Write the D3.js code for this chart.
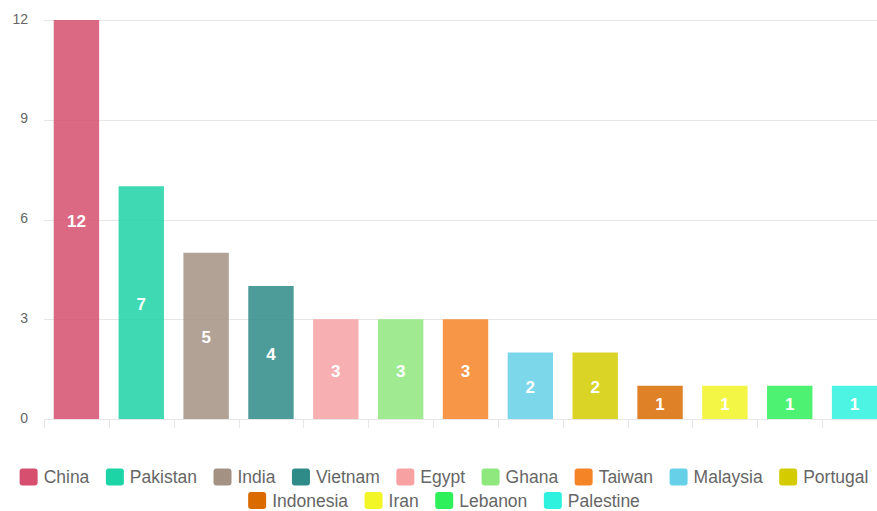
<!DOCTYPE html>
<html>
<head>
<meta charset="utf-8">
<script src="https://cdn.jsdelivr.net/npm/d3@7"></script>
<style>
  html, body { margin: 0; padding: 0; background: #fff; overflow: hidden; }
  svg { display: block; font-family: "Liberation Sans", Arial, Helvetica, sans-serif; }
</style>
</head>
<body>
<svg id="chart" width="877" height="511"></svg>
<script>
const categories = ["China", "Pakistan", "India", "Vietnam", "Egypt", "Ghana", "Taiwan", "Malaysia", "Portugal", "Indonesia", "Iran", "Lebanon", "Palestine"];
const values = [12, 7, 5, 4, 3, 3, 3, 2, 2, 1, 1, 1, 1];
const colors = ["#d64f6e", "#1dd4a6", "#a39283", "#2e8b88", "#f7a1a3", "#8fe87e", "#f58426", "#66d0e8", "#d4cc00", "#d96b00", "#f2f526", "#2ef05a", "#2ff2de"];
const yTicks = [0, 3, 6, 9, 12];

(function () {
const svg = d3.select("#chart");
const pLeft = 44, pRight = 887, pTop = 20, pBottom = 419;

const x = d3.scaleBand().domain(categories).range([pLeft, pRight]).paddingInner(0.3).paddingOuter(0.15);
const y = d3.scaleLinear().domain([0, 12]).range([pBottom, pTop]);

// grid lines
svg.append("g").selectAll("line").data(yTicks).join("line")
  .attr("x1", pLeft).attr("x2", pRight)
  .attr("y1", d => Math.round(y(d)) + 0.5).attr("y2", d => Math.round(y(d)) + 0.5)
  .attr("stroke", "#e6e6e6").attr("stroke-width", 1);

// y tick labels
svg.append("g").selectAll("text").data(yTicks).join("text")
  .attr("x", 28).attr("y", d => y(d))
  .attr("text-anchor", "end").attr("dominant-baseline", "middle")
  .attr("fill", "#666").attr("font-size", 14)
  .text(d => d);

// x ticks
const step = (pRight - pLeft) / categories.length;
const tickPos = d3.range(categories.length + 1).map(i => pLeft + i * step);
svg.append("g").selectAll("line").data(tickPos).join("line")
  .attr("x1", d => Math.round(d) + 0.5).attr("x2", d => Math.round(d) + 0.5)
  .attr("y1", pBottom).attr("y2", pBottom + 9)
  .attr("stroke", "#e6e6e6").attr("stroke-width", 1);

// bars
svg.append("g").selectAll("rect").data(categories).join("rect")
  .attr("x", d => x(d)).attr("width", x.bandwidth())
  .attr("y", (d, i) => y(values[i])).attr("height", (d, i) => y(0) - y(values[i]))
  .attr("fill", (d, i) => colors[i]).attr("fill-opacity", 0.85);

// bar labels
svg.append("g").selectAll("text").data(categories).join("text")
  .attr("x", d => x(d) + x.bandwidth() / 2)
  .attr("y", (d, i) => (y(values[i]) + y(0)) / 2 + 2)
  .attr("text-anchor", "middle").attr("dominant-baseline", "central")
  .attr("fill", "#fff").attr("font-weight", "bold").attr("font-size", 17)
  .text((d, i) => values[i]);

// legend
const rows = [categories.slice(0, 9), categories.slice(9)];
const rowY = [477, 500.5];
const swW = 18, swH = 17, gapText = 6, gapItem = 16.5, fontSize = 17.5, center = 444;
rows.forEach((row, ri) => {
  const g = svg.append("g");
  const items = row.map(name => {
    const ig = g.append("g");
    const idx = categories.indexOf(name);
    ig.append("rect").attr("width", swW).attr("height", swH).attr("rx", 3)
      .attr("y", rowY[ri] - swH / 2).attr("fill", colors[idx]);
    const t = ig.append("text").attr("x", swW + gapText).attr("y", rowY[ri])
      .attr("dominant-baseline", "central").attr("fill", "#666").attr("font-size", fontSize).text(name);
    return { ig, w: swW + gapText + t.node().getComputedTextLength() };
  });
  const total = d3.sum(items, d => d.w) + gapItem * (items.length - 1);
  let cx = center - total / 2;
  items.forEach(it => { it.ig.attr("transform", `translate(${cx},0)`); cx += it.w + gapItem; });
});
})();
</script>
</body>
</html>
